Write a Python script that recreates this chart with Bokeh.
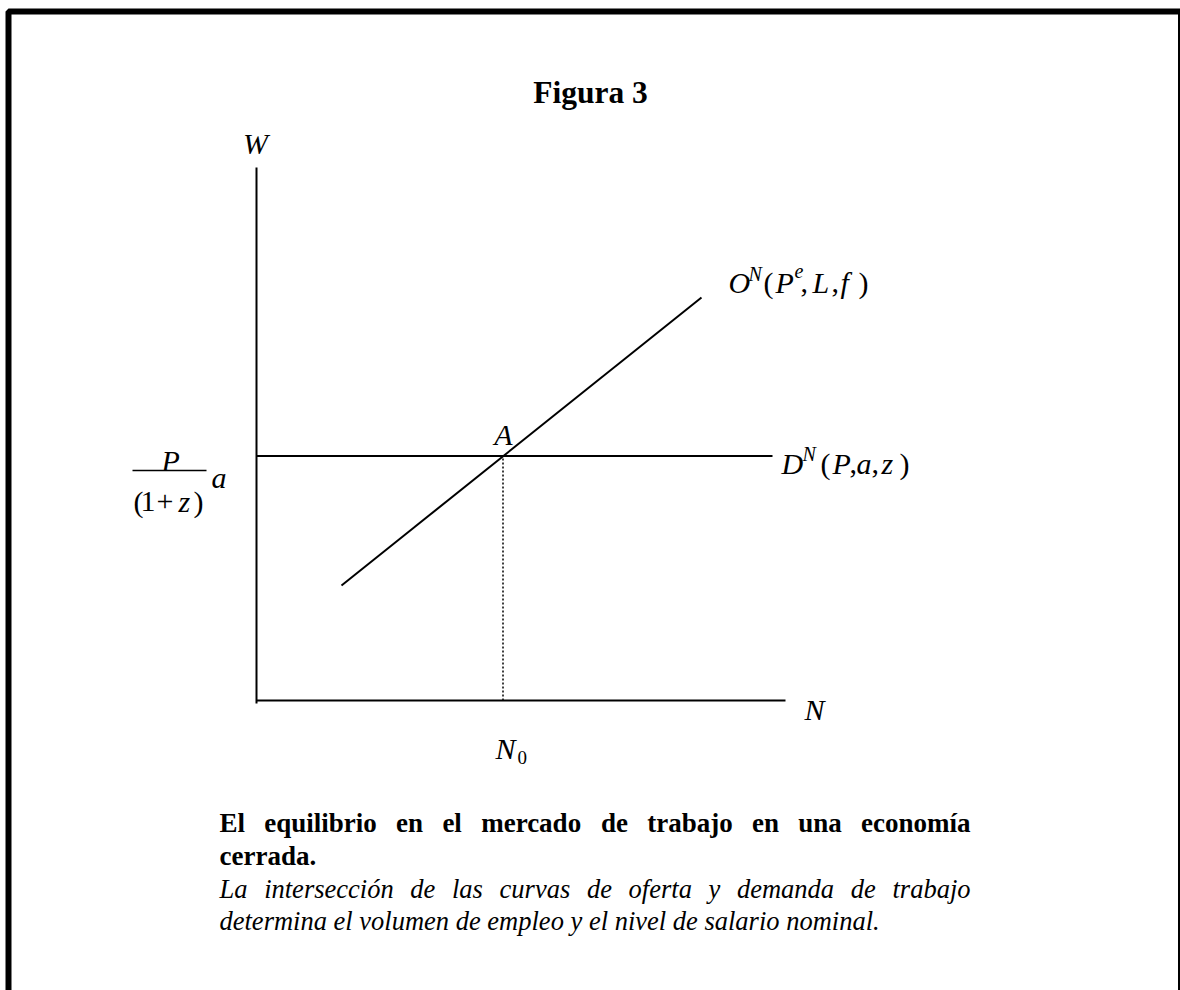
from bokeh.plotting import figure
from bokeh.models import Range1d
from bokeh.core.properties import value
from bokeh.embed import file_html
from bokeh.resources import INLINE

# ---------------- data (diagram units) ----------------
N0 = 24.65                 # equilibrium employment N_0
W0 = 24.45                 # equilibrium nominal wage  P/(1+z) a
demand_N = [0.0, 51.6]     # D^N(P,a,z): horizontal at W0
demand_W = [W0, W0]
supply_N = [8.5, 44.5]     # O^N(P^e,L,f): upward sloping
supply_W = [11.5, 40.3]
axis_N_max = 52.9
axis_W_max = 53.3

title_text = "Figura 3"
caption_bold = ["El equilibrio en el mercado de trabajo en una economía", "cerrada."]
caption_italic = ["La intersección de las curvas de oferta y demanda de trabajo",
                  "determina el volumen de empleo y el nivel de salario nominal."]

# ---------------- layout helpers (page pixels -> diagram units) ----------------
PX, OX, OY = 10.0, 256.0, 700.0
def dx(px): return (px - OX) / PX
def dy(py): return (OY - py) / PX

FONT = value("Liberation Serif")

p = figure(width=1180, height=990,
           x_range=Range1d(dx(0), dx(1180)), y_range=Range1d(dy(990), dy(0)),
           output_backend="svg", toolbar_location=None, min_border=0,
           x_axis_type=None, y_axis_type=None)
p.grid.visible = False
p.outline_line_color = None
p.background_fill_color = "white"
p.border_fill_color = "white"

# outer frame (thick black box)
p.quad(left=[dx(8)], right=[dx(1180.5)], top=[dy(11)], bottom=[dy(1100)],
       fill_color=None, line_color="black", line_width=6)

# axes
p.line([0, 0], [-0.3, axis_W_max], line_color="black", line_width=2)
p.line([0, axis_N_max], [0, 0], line_color="black", line_width=2)

# curves
p.line(demand_N, demand_W, line_color="black", line_width=2)
p.line(supply_N, supply_W, line_color="black", line_width=2)
p.line([N0, N0], [0, W0], line_color="black", line_width=1.5, line_dash="2 2")

# fraction bar of P/(1+z)
p.line([dx(132), dx(206)], [dy(470), dy(470)], line_color="black", line_width=1.5)

styles = {
    "mi": dict(text_font_style="italic", text_font_size="30px"),
    "mr": dict(text_font_style="normal", text_font_size="30px"),
    "sup": dict(text_font_style="italic", text_font_size="20px"),
    "sub": dict(text_font_style="normal", text_font_size="19px"),
    "title": dict(text_font_style="bold", text_font_size="31.5px"),
    "cb": dict(text_font_style="bold", text_font_size="27px"),
    "ci": dict(text_font_style="italic", text_font_size="26.5px"),
}

runs = []  # (text, page_x, page_baseline_y, style, align)
runs += [("W", 255, 143, "mi", "center"),
         ("N", 804, 709, "mi", "left"),
         ("N", 495, 748, "mi", "left"), ("0", 517, 757, "sub", "left"),
         ("A", 503, 434, "mi", "center")]
# P/(1+z) a
runs += [("P", 161, 460, "mi", "left"),
         ("(", 133, 501, "mr", "left"), ("1", 140, 501, "mr", "left"),
         ("+", 156, 501, "mr", "left"), ("z", 178, 501, "mi", "left"),
         (")", 193, 501, "mr", "left"), ("a", 211, 477, "mi", "left")]
# D^N(P,a,z)
runs += [("D", 781, 463, "mi", "left"), ("N", 802, 453, "sup", "left"),
         ("(", 820, 463, "mr", "left"), ("P", 832, 463, "mi", "left"),
         (",", 849, 463, "mr", "left"), ("a", 856, 463, "mi", "left"),
         (",", 871, 463, "mr", "left"), ("z", 881, 463, "mi", "left"),
         (")", 899, 463, "mr", "left")]
# O^N(P^e,L,f)
runs += [("O", 728, 282, "mi", "left"), ("N", 748, 273, "sup", "left"),
         ("(", 763, 282, "mr", "left"), ("P", 775, 282, "mi", "left"),
         ("e", 794, 270, "sup", "left"), (",", 800, 282, "mr", "left"),
         ("L", 812, 282, "mi", "left"), (",", 831, 282, "mr", "left"),
         ("f", 840, 282, "mi", "left"), (")", 858, 282, "mr", "left")]
# title
runs += [(title_text, 590, 92, "title", "center")]

# ---- caption with justified first lines (Times metrics, per 1000 em) ----
BOLD = {"E": 667, "l": 278, "e": 444, "q": 556, "u": 556, "i": 278, "b": 556, "r": 444,
        "o": 500, "n": 556, "m": 833, "c": 444, "a": 500, "d": 556, "t": 333, "j": 333,
        "í": 278, ".": 250}
ITAL = {"L": 556, "a": 500, "i": 278, "n": 500, "t": 278, "e": 444, "r": 389, "s": 389,
        "c": 444, "ó": 500, "o": 500, "d": 500, "l": 278, "u": 500, "v": 444, "f": 278,
        "y": 444, "m": 722, "b": 500, "j": 278, "p": 500, ".": 250}

def justify(line, metrics, size, left, right, base, style):
    words = line.split(" ")
    ws = [sum(metrics.get(ch, 500) for ch in w) * size / 1000.0 for w in words]
    gap = (right - left - sum(ws)) / (len(words) - 1)
    x = left
    out = []
    for i, w in enumerate(words):
        if i == len(words) - 1:
            out.append((w, right, base, style, "right"))
        else:
            out.append((w, x, base, style, "left"))
        x += ws[i] + gap
    return out

LEFT, RIGHT = 219, 970
runs += justify(caption_bold[0], BOLD, 27, LEFT, RIGHT, 822, "cb")
runs += [(caption_bold[1], LEFT, 855, "cb", "left")]
runs += justify(caption_italic[0], ITAL, 26.5, LEFT, RIGHT, 888, "ci")
runs += [(caption_italic[1], LEFT, 920, "ci", "left")]

for st, kw in styles.items():
    for al in ("left", "center", "right"):
        sel = [r for r in runs if r[3] == st and r[4] == al]
        if not sel:
            continue
        p.text(x=[dx(r[1]) for r in sel], y=[dy(r[2]) for r in sel],
               text=[r[0] for r in sel], text_font=FONT, text_color="black",
               text_align=al, text_baseline="alphabetic", **kw)

open("out.html", "w").write(file_html(p, INLINE))
